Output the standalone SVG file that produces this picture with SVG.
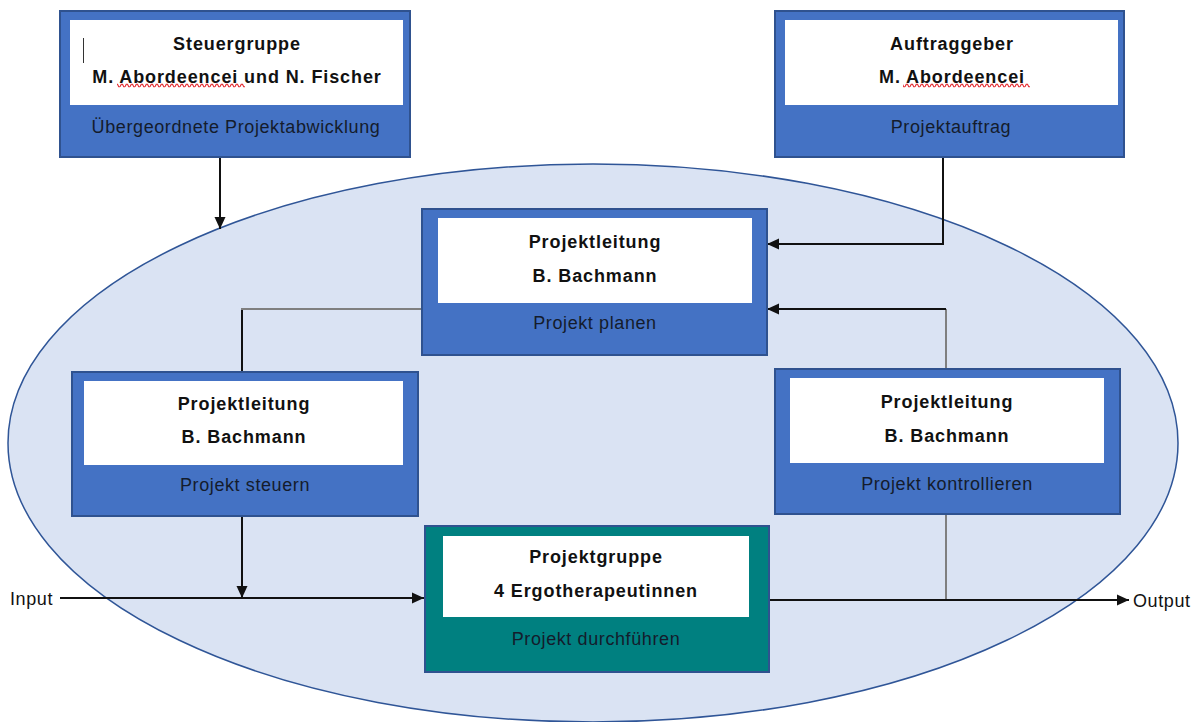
<svg xmlns="http://www.w3.org/2000/svg" width="1200" height="722" viewBox="0 0 1200 722">
  <style>
    .box { fill: #4472c4; stroke: #2f528f; stroke-width: 2; }
    .team { fill: #008080; stroke: #2f528f; stroke-width: 2; }
    .inner { fill: #ffffff; }
    .title { font-family: "Liberation Sans", Arial, sans-serif; font-size: 18px; font-weight: bold; fill: #111111; text-anchor: middle; letter-spacing: 0.9px; }
    .role { font-family: "Liberation Sans", Arial, sans-serif; font-size: 18px; fill: #141c2c; text-anchor: middle; letter-spacing: 0.6px; }
    .io { font-family: "Liberation Sans", Arial, sans-serif; font-size: 18px; fill: #111111; letter-spacing: 0.6px; }
    .flow { fill: none; stroke: #111111; stroke-width: 2; }
    .link { fill: none; stroke: #7f7f7f; stroke-width: 2; }
  </style>
  <defs>
    <marker id="arrow" markerUnits="userSpaceOnUse" markerWidth="14" markerHeight="14" viewBox="0 0 14 14" refX="12" refY="7" orient="auto">
      <path d="M0,1.5 L12,7 L0,12.5 Z" fill="#111111"/>
    </marker>
    <pattern id="squiggle" patternUnits="userSpaceOnUse" x="0" y="83" width="5" height="5">
      <path d="M0,3.8 L1.25,1.2 L2.5,1.2 L3.75,3.8 L5,3.8" fill="none" stroke="#e3262b" stroke-width="1.1"/>
    </pattern>
  </defs>

  <!-- project environment -->
  <ellipse id="scope" cx="593" cy="443" rx="585" ry="279" fill="#dae3f3" stroke="#2f5597" stroke-width="1.5"/>

  <!-- connectors -->
  <g id="connectors">
    <path class="flow" d="M220,157 V229" marker-end="url(#arrow)"/>
    <path class="flow" d="M943,157 V244 H767" marker-end="url(#arrow)"/>
    <path class="link" d="M946,369 V309"/>
    <path class="flow" d="M946,309 H767" marker-end="url(#arrow)"/>
    <path class="flow" d="M242,372 V309"/>
    <path class="link" d="M241,309 H421"/>
    <path class="flow" d="M242,516 V598" marker-end="url(#arrow)"/>
    <path class="flow" d="M60,598 H424" marker-end="url(#arrow)"/>
    <path class="link" d="M946,514 V600"/>
    <path class="flow" d="M769,600 H1129" marker-end="url(#arrow)"/>
  </g>

  <g id="steuergruppe">
    <rect class="box" x="60" y="11" width="350" height="146"/>
    <rect class="inner" x="70" y="20" width="333" height="85"/>
    <line x1="83.5" y1="38" x2="83.5" y2="63" stroke="#333333" stroke-width="1"/>
    <text class="title" x="237" y="50">Steuergruppe</text>
    <rect x="117" y="83" width="128" height="5" fill="url(#squiggle)"/>
    <text class="title" x="237" y="83">M. Abordeencei und N. Fischer</text>
    <text class="role" x="236" y="133">Übergeordnete Projektabwicklung</text>
  </g>

  <g id="auftraggeber">
    <rect class="box" x="775" y="11" width="349" height="146"/>
    <rect class="inner" x="785" y="20" width="333" height="85"/>
    <text class="title" x="952" y="50">Auftraggeber</text>
    <rect x="903" y="83" width="127" height="5" fill="url(#squiggle)"/>
    <text class="title" x="952" y="83">M. Abordeencei</text>
    <text class="role" x="951" y="133">Projektauftrag</text>
  </g>

  <g id="planen">
    <rect class="box" x="422" y="209" width="345" height="146"/>
    <rect class="inner" x="438" y="218" width="314" height="85"/>
    <text class="title" x="595" y="248">Projektleitung</text>
    <text class="title" x="595" y="282">B. Bachmann</text>
    <text class="role" x="595" y="329">Projekt planen</text>
  </g>

  <g id="steuern">
    <rect class="box" x="72" y="372" width="346" height="144"/>
    <rect class="inner" x="84" y="381" width="319" height="84"/>
    <text class="title" x="244" y="410">Projektleitung</text>
    <text class="title" x="244" y="443">B. Bachmann</text>
    <text class="role" x="245" y="491">Projekt steuern</text>
  </g>

  <g id="kontrollieren">
    <rect class="box" x="775" y="369" width="345" height="145"/>
    <rect class="inner" x="790" y="378" width="314" height="85"/>
    <text class="title" x="947" y="408">Projektleitung</text>
    <text class="title" x="947" y="442">B. Bachmann</text>
    <text class="role" x="947" y="490">Projekt kontrollieren</text>
  </g>

  <g id="projektgruppe">
    <rect class="team" x="425" y="526" width="344" height="146"/>
    <rect class="inner" x="443" y="536" width="306" height="81"/>
    <text class="title" x="596" y="563">Projektgruppe</text>
    <text class="title" x="596" y="597">4 Ergotherapeutinnen</text>
    <text class="role" x="596" y="645">Projekt durchführen</text>
  </g>

  <g id="input">
    <text class="io" x="10" y="605">Input</text>
  </g>
  <g id="output">
    <text class="io" x="1133" y="607">Output</text>
  </g>
</svg>
